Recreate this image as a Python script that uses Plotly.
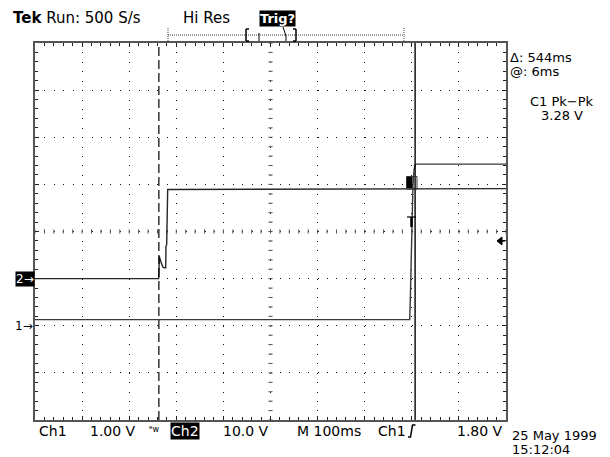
import plotly.graph_objects as go
import numpy as np

# ---------------- data ----------------
ch1_time_ms = [0, 795.5, 796.8, 797.6, 798.3, 799.4, 800.4, 801.5, 802.5, 804.7, 806.8, 808.9, 1000]
ch1_volts = [0.13, 0.13, 0.55, 0.93, 1.29, 1.61, 2.24, 2.56, 2.98, 3.30, 3.41, 3.43, 3.43]

ch2_time_ms = [0, 262.4, 263.0, 263.9, 266.9, 269.0, 271.2, 274.5, 277.5, 278.1, 279.6, 281.7, 1000]
ch2_volts = [0, 0, 0.5, 4.7, 3.7, 3.0, 2.5, 2.3, 2.3, 6.9, 7.2, 18.9, 19.1]

ch1_volts_per_div = 1.00
ch2_volts_per_div = 10.0
ch1_position_div = -2.0
ch2_position_div = -1.0
time_per_div_ms = 100
trigger_level_v = 1.80
cursor_times_ms = [263, 807]

header_text = "<b>Tek</b> Run: 500 S/s"
mode_text = "Hi Res"
trig_text = "<b>Trig?</b>"
readout_lines = ["Δ: 544ms", "@: 6ms"]
meas_lines = ["C1 Pk−Pk", "3.28 V"]
bottom_labels = ["Ch1", "1.00 V", "Ch2", "10.0 V", "M 100ms", "Ch1", "1.80 V"]
date_lines = ["25 May 1999", "15:12:04"]

# ---------------- layout geometry ----------------
# the page body adds an 8 px margin, so the figure is drawn 8 px smaller
OFF = 8
W, H = 610 - OFF, 457 - OFF
PL, PR, PT, PB = 35, 506, 43, 420          # plot box in page pixels
L, R, T, B = PL - OFF, 610 - PR, PT - OFF, 457 - PB
PW, PH = PR - PL, PB - PT
FONT = "DejaVu Sans"


def px(x):
    return (x - PL) / PW


def py(y):
    return (PB - y) / PH


ch1_div = [v / ch1_volts_per_div + ch1_position_div for v in ch1_volts]
ch2_div = [v / ch2_volts_per_div + ch2_position_div for v in ch2_volts]

fig = go.Figure()

# centre cross-hair tick marks
minor_y = np.arange(-4, 4.001, 0.2)
minor_x = np.arange(0, 1000.1, 20)
fig.add_trace(go.Scatter(x=[500] * len(minor_y), y=minor_y, mode="markers",
                         marker=dict(symbol="line-ew", size=3, line=dict(width=1, color="#555")),
                         hoverinfo="skip", showlegend=False))
fig.add_trace(go.Scatter(x=minor_x, y=[0] * len(minor_x), mode="markers",
                         marker=dict(symbol="line-ns", size=3, line=dict(width=1, color="#555")),
                         hoverinfo="skip", showlegend=False))

fig.add_trace(go.Scatter(x=ch2_time_ms, y=ch2_div, mode="lines",
                         line=dict(color="#262626", width=1.4), showlegend=False, name="Ch2"))
fig.add_trace(go.Scatter(x=ch1_time_ms, y=ch1_div, mode="lines",
                         line=dict(color="#3a3a3a", width=1.4), showlegend=False, name="Ch1"))

# cursors
fig.add_shape(type="line", xref="x", yref="paper", x0=cursor_times_ms[0], x1=cursor_times_ms[0],
              y0=0, y1=1, line=dict(color="black", width=1.2, dash="9px,4px"))
fig.add_shape(type="line", xref="x", yref="paper", x0=cursor_times_ms[1], x1=cursor_times_ms[1],
              y0=0, y1=1, line=dict(color="black", width=1.4))

grid_dash = "1px,%.3fpx" % (PW / 50 - 1)
fig.update_xaxes(range=[0, 1000], dtick=time_per_div_ms, showgrid=True, gridcolor="#111",
                 gridwidth=1, griddash=grid_dash, zeroline=False, showticklabels=False,
                 ticks="inside", ticklen=4, tickcolor="#222",
                 minor=dict(dtick=time_per_div_ms / 5, ticks="inside", ticklen=3, tickcolor="#222", showgrid=False),
                 showline=True, linecolor="#555", linewidth=2, mirror="ticks", fixedrange=True)
fig.update_yaxes(range=[-4, 4], dtick=1, showgrid=True, gridcolor="#111",
                 gridwidth=1, griddash=grid_dash, zeroline=False, showticklabels=False,
                 ticks="inside", ticklen=4, tickcolor="#222",
                 minor=dict(dtick=0.2, ticks="inside", ticklen=3, tickcolor="#222", showgrid=False),
                 showline=True, linecolor="#555", linewidth=2, mirror="ticks", fixedrange=True)


def ann(text, x, y, size=13, xanchor="left", color="black", bg=None, family=FONT):
    fig.add_annotation(text=text, x=px(x), y=py(y), xref="paper", yref="paper",
                       xanchor=xanchor, yanchor="middle", showarrow=False,
                       font=dict(family=family, size=size, color=color),
                       bgcolor=bg, borderpad=0)


def seg(x0, y0, x1, y1, dash=None, width=1, color="black"):
    fig.add_shape(type="line", xref="paper", yref="paper", x0=px(x0), x1=px(x1), y0=py(y0), y1=py(y1),
                  line=dict(color=color, width=width, dash=dash))


# header
ann(header_text, 12, 18, size=15)
ann(mode_text, 182, 18, size=15)
ann(trig_text, 259, 19, size=13, color="white", bg="black")

# record-length indicator
seg(168, 35, 404, 35, dash="1px,1px", color="#444")
seg(168, 28, 168, 41, dash="1px,1px", color="#444")
seg(404, 28, 404, 41, dash="1px,1px", color="#444")
seg(246, 29, 246, 41, width=1.5); seg(246, 29, 249, 29, width=1.5); seg(246, 41, 249, 41, width=1.5)
seg(296, 29, 296, 41, width=1.5); seg(296, 29, 293, 29, width=1.5); seg(296, 41, 293, 41, width=1.5)
seg(259, 33, 259, 41)
seg(283, 27, 286, 36); seg(286, 36, 286, 41)

# right-hand readouts
ann(readout_lines[0], 509, 57)
ann(readout_lines[1], 509, 72)
ann(meas_lines[0], 562, 101, xanchor="center")
ann(meas_lines[1], 562, 116, xanchor="center")

# ground markers
y2 = PB - (ch2_position_div + 4) / 8 * PH
y1 = PB - (ch1_position_div + 4) / 8 * PH
ann("2→", 15, y2, size=12, color="white", bg="black")
ann("1→", 14, y1, size=12)

# trigger level arrow (right side)
yt = PB - ((trigger_level_v / ch1_volts_per_div + ch1_position_div) + 4) / 8 * PH
fig.add_shape(type="path", xref="paper", yref="paper",
              path="M %f,%f L %f,%f L %f,%f Z" % (px(497), py(yt), px(502), py(yt - 4), px(502), py(yt + 4)),
              fillcolor="black", line=dict(color="black", width=1))
seg(500, yt, 505, yt, width=1.5)

# trigger marks on the Ch1 edge
fig.add_shape(type="rect", xref="paper", yref="paper", x0=px(406.5), x1=px(412.5), y0=py(188), y1=py(177),
              fillcolor="black", line=dict(color="black", width=0))
fig.add_shape(type="rect", xref="paper", yref="paper", x0=px(406.5), x1=px(417), y0=py(189), y1=py(176.5),
              fillcolor="rgba(0,0,0,0)", line=dict(color="#333", width=1))
seg(407, 217, 416, 217, width=1.2)
seg(411.5, 217, 411.5, 227, width=2.5)

# bottom status line
yb = 431
ann(bottom_labels[0], 38, yb, size=14)
ann(bottom_labels[1], 89, yb, size=14)
ann("ᴮw", 148, yb - 2, size=8)
ann(bottom_labels[2], 170, yb, size=14, color="white", bg="black")
ann(bottom_labels[3], 222, yb, size=14)
ann(bottom_labels[4], 296, yb, size=14)
ann(bottom_labels[5], 377, yb, size=14)
fig.add_shape(type="path", xref="paper", yref="paper",
              path="M %f,%f L %f,%f L %f,%f L %f,%f" % (px(408), py(437), px(410.5), py(437), px(412.5), py(425), px(415.5), py(425)),
              line=dict(color="black", width=1.5))
ann(bottom_labels[6], 504, yb, size=14, xanchor="right")
ann(date_lines[0], 511, 435)
ann(date_lines[1], 511, 450)

fig.update_layout(width=W, height=H, margin=dict(l=L, r=R, t=T, b=B),
                  paper_bgcolor="white", plot_bgcolor="white", showlegend=False,
                  font=dict(family=FONT, size=13, color="black"))

fig.write_html("out.html")
